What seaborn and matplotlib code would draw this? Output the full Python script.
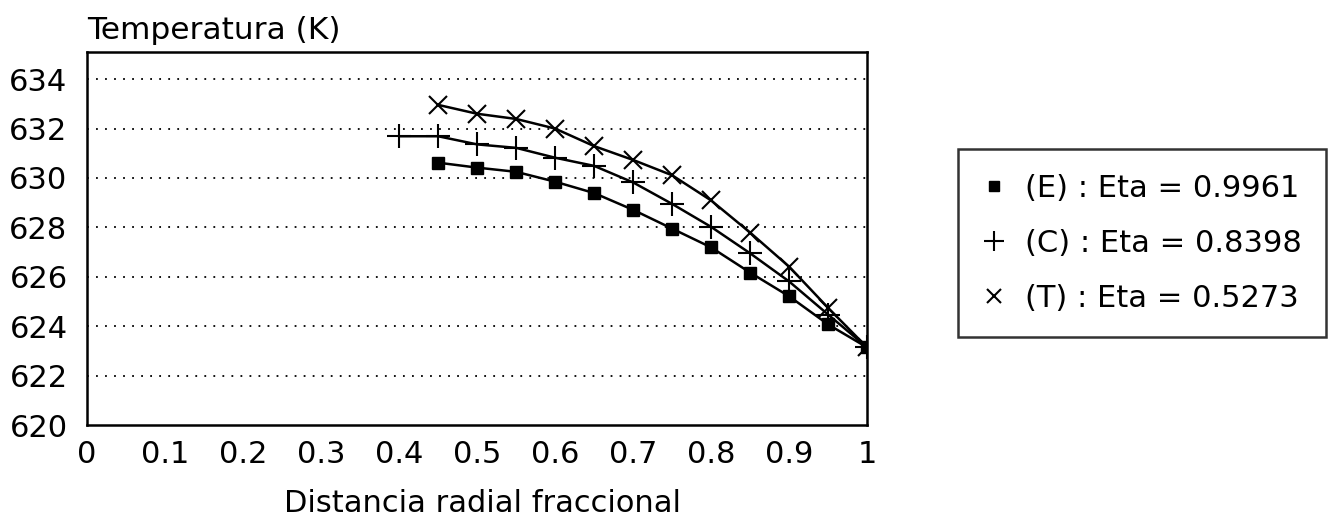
import seaborn as sns
import pandas as pd
import matplotlib.pyplot as plt
from matplotlib.lines import Line2D

# radial position (fraction) and temperature (K)
x_e = [0.45, 0.50, 0.55, 0.60, 0.65, 0.70, 0.75, 0.80, 0.85, 0.90, 0.95, 1.00]
t_e = [630.62, 630.42, 630.25, 629.85, 629.39, 628.71, 627.95, 627.19, 626.17, 625.21, 624.07, 623.14]

x_c = [0.40, 0.45, 0.50, 0.55, 0.60, 0.65, 0.70, 0.75, 0.80, 0.85, 0.90, 0.95, 1.00]
t_c = [631.69, 631.69, 631.36, 631.22, 630.82, 630.49, 629.82, 628.95, 628.02, 626.95, 625.81, 624.47, 623.14]

x_t = [0.45, 0.50, 0.55, 0.60, 0.65, 0.70, 0.75, 0.80, 0.85, 0.90, 0.95, 1.00]
t_t = [632.96, 632.60, 632.39, 632.00, 631.29, 630.73, 630.11, 629.09, 627.79, 626.41, 624.74, 623.14]

labels = ['(E) : Eta = 0.9961', '(C) : Eta = 0.8398', '(T) : Eta = 0.5273']
y_ticks = [620, 622, 624, 626, 628, 630, 632, 634]
x_ticks = [0, 0.1, 0.2, 0.3, 0.4, 0.5, 0.6, 0.7, 0.8, 0.9, 1]
x_tick_labels = ['0', '0.1', '0.2', '0.3', '0.4', '0.5', '0.6', '0.7', '0.8', '0.9', '1']

sns.set_style('white')
plt.rcParams['font.family'] = ['DejaVu Sans']
plt.rcParams['text.color'] = 'black'
plt.rcParams['axes.labelcolor'] = 'black'

fig = plt.figure(figsize=(13.29, 5.18), dpi=100)
ax = fig.add_axes([0.0655, 0.1795, 0.587, 0.7201])

series = [
    (x_e, t_e, 's', 8, 1.0),
    (x_c, t_c, '+', 17, 1.5),
    (x_t, t_t, 'x', 13, 1.5),
]
for xs, ts, mk, ms, mew in series:
    df = pd.DataFrame({'x': xs, 't': ts})
    sns.lineplot(data=df, x='x', y='t', ax=ax, color='black', lw=1.8,
                 marker=mk, markersize=ms, markeredgewidth=mew,
                 markeredgecolor='black', markerfacecolor='black')

ax.set_xlim(0, 1)
ax.set_ylim(620, 635.1)
ax.set_yticks(y_ticks)
ax.set_xticks(x_ticks)
ax.set_xticklabels(x_tick_labels)
ax.tick_params(axis='both', length=0, labelsize=22, colors='black')
ax.tick_params(axis='y', pad=14)
ax.tick_params(axis='x', pad=11)

for y in y_ticks[1:]:
    ax.axhline(y, color='black', lw=1.3, ls=(0, (1, 4)), zorder=0)

for side in ['left', 'right', 'top', 'bottom']:
    ax.spines[side].set_visible(True)
    ax.spines[side].set_color('black')
    ax.spines[side].set_linewidth(1.8)

ax.set_xlabel('Distancia radial fraccional', fontsize=22)
ax.xaxis.set_label_coords(0.507, -0.172)
ax.set_ylabel('Temperatura (K)', fontsize=22.5, rotation=0, ha='left', va='bottom')
ax.yaxis.set_label_coords(0.0, 1.02)

handles = [
    Line2D([], [], color='black', marker='s', ls='none', markersize=7),
    Line2D([], [], color='black', marker='+', ls='none', markersize=15, markeredgewidth=1.5),
    Line2D([], [], color='black', marker='x', ls='none', markersize=10, markeredgewidth=1.5),
]
leg = fig.legend(handles, labels, loc='upper right', bbox_to_anchor=(0.998, 0.712),
                 borderaxespad=0, fontsize=22, frameon=True, fancybox=False,
                 handlelength=0.8, handletextpad=0.6, labelspacing=0.85, borderpad=0.8)
leg.get_frame().set_edgecolor('black')
leg.get_frame().set_linewidth(1.8)

fig.savefig('out.png', dpi=100)
